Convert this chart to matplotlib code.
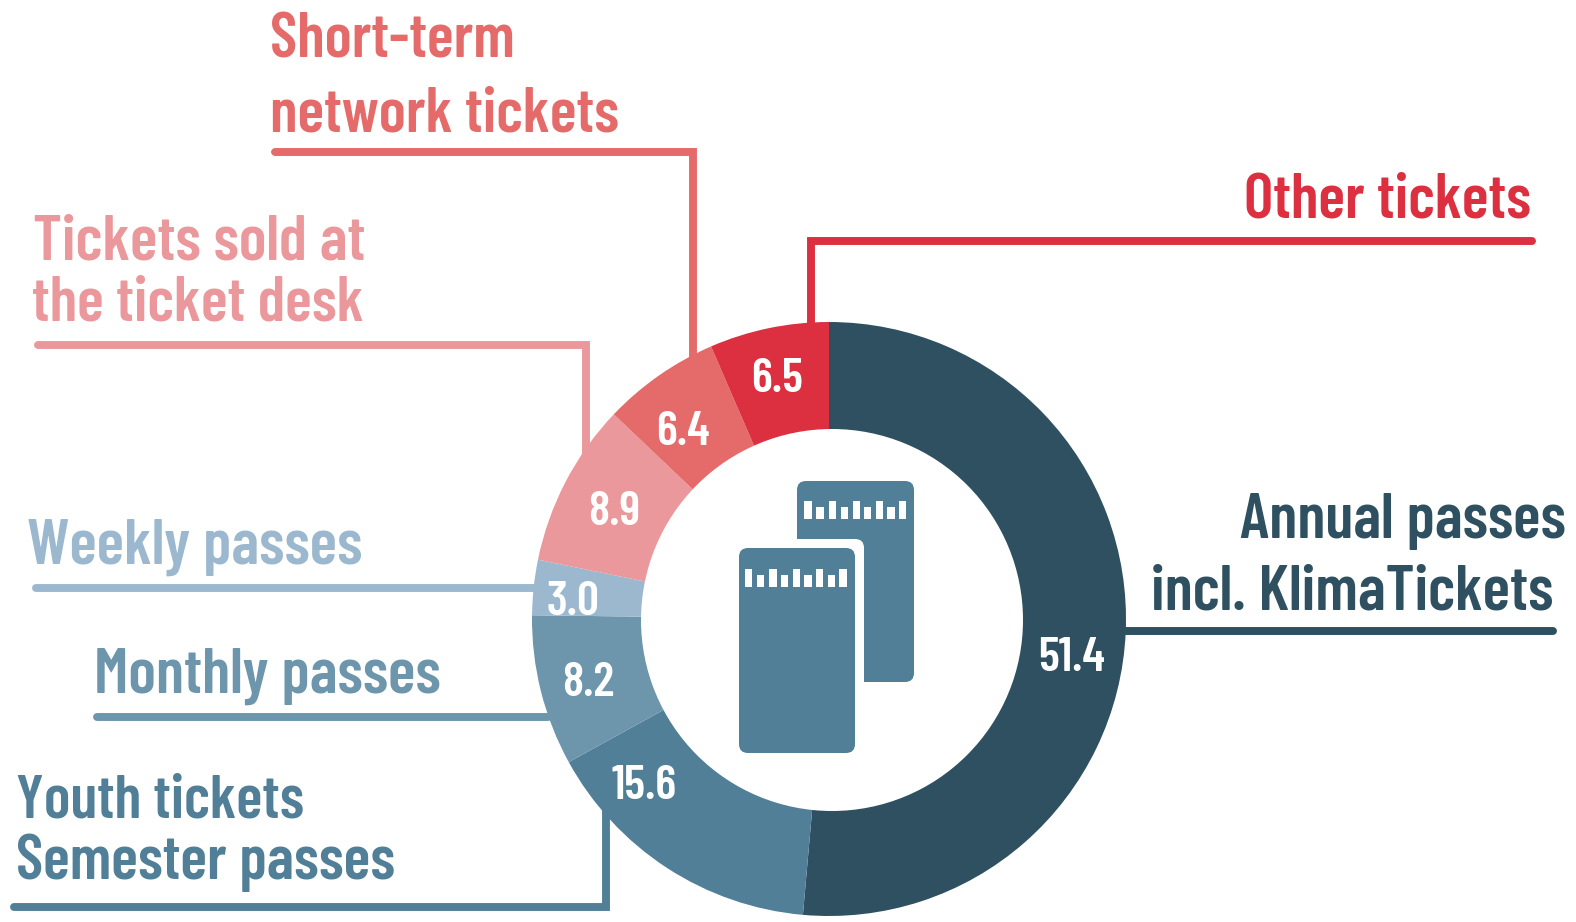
import matplotlib
matplotlib.use('Agg')
import matplotlib.pyplot as plt
from matplotlib.patches import Circle, FancyBboxPatch, Rectangle

W, H = 1576, 922

categories = ['Annual passes\nincl. KlimaTickets', 'Youth tickets\nSemester passes', 'Monthly passes',
              'Weekly passes', 'Tickets sold at\nthe ticket desk', 'Short-term\nnetwork tickets', 'Other tickets']
values = [51.4, 15.6, 8.2, 3.0, 8.9, 6.4, 6.5]
colors = ['#2F5060', '#517F98', '#6D95AC', '#9BB8CF', '#EA989B', '#E56A6A', '#DC3040']

plt.rcParams['font.family'] = ['Barlow Condensed', 'Liberation Sans', 'DejaVu Sans']

fig = plt.figure(figsize=(W / 100, H / 100), dpi=100, facecolor='white')

# ring, the hole sits a little right of the outer circle
cx, cy, R = 829, 619, 297
hole_x, hole_y, hole_r = 832, 620, 191
ax_pie = fig.add_axes([(cx - R) / W, 1 - (cy + R) / H, 2 * R / W, 2 * R / H])
ax_pie.pie(values, colors=colors, startangle=90, counterclock=False, radius=1,
           wedgeprops=dict(linewidth=0))
ax_pie.add_patch(Circle(((hole_x - cx) / R, (cy - hole_y) / R), hole_r / R, fc='white', ec='none', zorder=5))
ax_pie.set_xlim(-1, 1)
ax_pie.set_ylim(-1, 1)
ax_pie.axis('off')

# overlay in pixel coordinates
ax = fig.add_axes([0, 0, 1, 1], zorder=2)
ax.set_xlim(0, W)
ax.set_ylim(H, 0)
ax.axis('off')
ax.patch.set_alpha(0)


def leader(points, color, lw=5.7):
    xs, ys = zip(*points)
    ax.plot(xs, ys, color=color, lw=lw, solid_capstyle='round', solid_joinstyle='miter')


def label(x, y, s, color, ha='left', size=45):
    ax.text(x, y, s, color=color, ha=ha, va='baseline', fontsize=size, fontweight=600)


# leaders, same order as categories
leader([(1126, 631), (1553, 631)], colors[0])
leader([(14, 907), (606, 907), (606, 810)], colors[1])
leader([(97, 717), (548, 717)], colors[2])
leader([(36, 588), (535, 588)], colors[3])
leader([(38, 345), (586, 345), (586, 458)], colors[4])
leader([(275, 152), (693, 152), (693, 358)], colors[5])
leader([(1532, 241), (811, 241), (811, 325)], colors[6])

ann1, ann2 = categories[0].split('\n')
label(1566, 538, ann1, colors[0], ha='right', size=46)
label(1553, 609, ann2, colors[0], ha='right', size=46)
you1, you2 = categories[1].split('\n')
label(16, 817, you1, colors[1], size=44)
label(16, 879, you2, colors[1])
label(94, 693, categories[2], colors[2], size=46)
label(27, 564, categories[3], colors[3], size=46)
tic1, tic2 = categories[4].split('\n')
label(33, 259, tic1, colors[4], size=46)
label(32, 320, tic2, colors[4])
sho1, sho2 = categories[5].split('\n')
label(270, 58, sho1, colors[5])
label(270, 131, sho2, colors[5])
label(1531, 217, categories[6], colors[6], ha='right')

# value labels
value_x = [1072, 644, 588, 573, 614, 683, 777]
value_y = [654, 782, 679, 598, 508, 428, 375]
for x, y, v in zip(value_x, value_y, values):
    ax.text(x, y, f'{v:.1f}', color='white', ha='center', va='center_baseline', fontsize=35, fontweight=600)


# ticket icon
def card(x0, y0, x1, y1, color, rad=9):
    p = FancyBboxPatch((x0 + rad, y0 + rad), x1 - x0 - 2 * rad, y1 - y0 - 2 * rad,
                       boxstyle=f'round,pad={rad},rounding_size={rad}', fc=color, ec='none')
    ax.add_patch(p)


icon = '#517F98'
card(797, 481, 914, 682, icon)
card(725, 539, 864, 765, 'white')
card(739, 548, 855, 753, icon)

back_x = [804.3, 816.3, 829, 840.7, 852.7, 864, 875.7, 887.3, 899]
front_x = [745, 756.7, 769.3, 781, 792.7, 804.3, 816, 827.7, 839.3]
for i, x in enumerate(back_x):
    top = 501 if i % 2 == 0 else 507
    ax.add_patch(Rectangle((x, top), 7.3, 518.5 - top, fc='white', ec='none'))
for i, x in enumerate(front_x):
    top = 569.3 if i % 2 == 0 else 575
    ax.add_patch(Rectangle((x, top), 7.3, 586.7 - top, fc='white', ec='none'))

fig.savefig('out.png', dpi=100, facecolor='white')
